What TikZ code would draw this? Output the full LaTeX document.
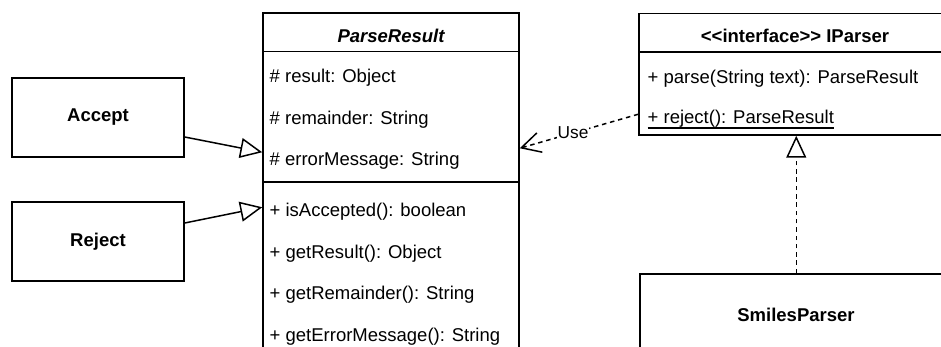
\documentclass[tikz,border=0pt]{standalone}
\usepackage{fontspec}
\setmainfont{Liberation Sans}
\usetikzlibrary{arrows.meta,calc}
\begin{document}
\begin{tikzpicture}[x=1pt,y=-1pt,
  box/.style={draw, line width=1.5pt, fill=white, inner sep=0pt},
  title/.style={inner sep=0pt, font=\fontsize{18.5}{22}\selectfont\bfseries},
  member/.style={anchor=base west, inner sep=0pt, font=\fontsize{18.5}{22}\selectfont},
  sepline/.style={line width=1.5pt},
  inherit/.style={line width=1.5pt, -{Triangle[open, length=22pt, width=20pt, fill=white]}},
  dashline/.style={dash pattern=on 4.5pt off 3.8pt},
  usearrow/.style={line width=1.5pt, dashline, -{Straight Barb[length=19pt, width=20pt]}},
  edgelabel/.style={fill=white, inner sep=1pt, font=\fontsize{17.3}{20}\selectfont}
]
\useasboundingbox (0,0) rectangle (941,347);
\clip (0,0) rectangle (941,347);

% Concrete result classes
\node[box, title, minimum width=172pt, minimum height=79pt] (accept) at (98,117.5) {Accept};
\node[box, title, minimum width=172pt, minimum height=79pt] (reject) at (98,241.5) {Reject};

% Abstract class ParseResult (runs past the lower edge)
\node[box, minimum width=256pt, minimum height=400pt] (pr) at (391,213) {};
\draw[sepline] ($(pr.north west)+(0,39.5)$) -- ($(pr.north east)+(0,39.5)$);
\draw[sepline] ($(pr.north west)+(0,170)$) -- ($(pr.north east)+(0,170)$);
\node[title, anchor=base, font=\fontsize{18.5}{22}\selectfont\bfseries\itshape] (prtitle) at (391,43) {ParseResult};
\node[member] (prf1) at (269.5,83) {\# result: Object};
\node[member] (prf2) at (269.5,124.5) {\# remainder: String};
\node[member] (prf3) at (269.5,166) {\# errorMessage: String};
\node[member] (prm1) at (269.5,216.5) {+ isAccepted(): boolean};
\node[member] (prm2) at (269.5,258) {+ getResult(): Object};
\node[member] (prm3) at (269.5,299.5) {+ getRemainder(): String};
\node[member] (prm4) at (269.5,341) {+ getErrorMessage(): String};

% Interface IParser (runs past the right edge)
\node[box, minimum width=312pt, minimum height=121.5pt] (ip) at (795,74.25) {};
\draw[sepline] ($(ip.north west)+(0,39.5)$) -- ($(ip.north east)+(0,39.5)$);
\node[title, anchor=base] (iptitle) at (795,43) {<{}<interface>{}> IParser};
\node[member] (ipm1) at (647.5,83.5) {+ parse(String text): ParseResult};
\node[member] (ipm2) at (647.5,123.5) {+ reject(): ParseResult};
\draw[line width=1.2pt] ($(ipm2.base west)+(0,4.5)$) -- ($(ipm2.base east)+(0,4.5)$);

% Implementing class
\node[box, title, minimum width=312pt, minimum height=82pt] (sp) at (796,315) {SmilesParser};

% Generalisations
\coordinate (accfrom) at ($(accept.east)+(0,19.5)$);
\coordinate (accto) at ($(pr.north west)+(0,140)$);
\coordinate (rejfrom) at ($(reject.east)+(0,-18.5)$);
\coordinate (rejto) at ($(pr.north west)+(0,195)$);
\draw[inherit] (accfrom) -- (accto);
\draw[inherit] (rejfrom) -- (rejto);

% Realisation of IParser
\coordinate (spup) at ($(sp.north west)+(157,0)$);
\coordinate (ipdown) at ($(ip.south west)+(158,0)$);
\draw[inherit, dashline] (spup) -- (ipdown);

% Dependency: IParser uses ParseResult
\coordinate (usefrom) at ($(ip.north west)+(0,101.5)$);
\coordinate (useto) at ($(pr.north east)+(0,136)$);
\draw[usearrow] (usefrom) -- (useto) node[edgelabel, pos=0.55] (uselbl) {Use};
\end{tikzpicture}
\end{document}
